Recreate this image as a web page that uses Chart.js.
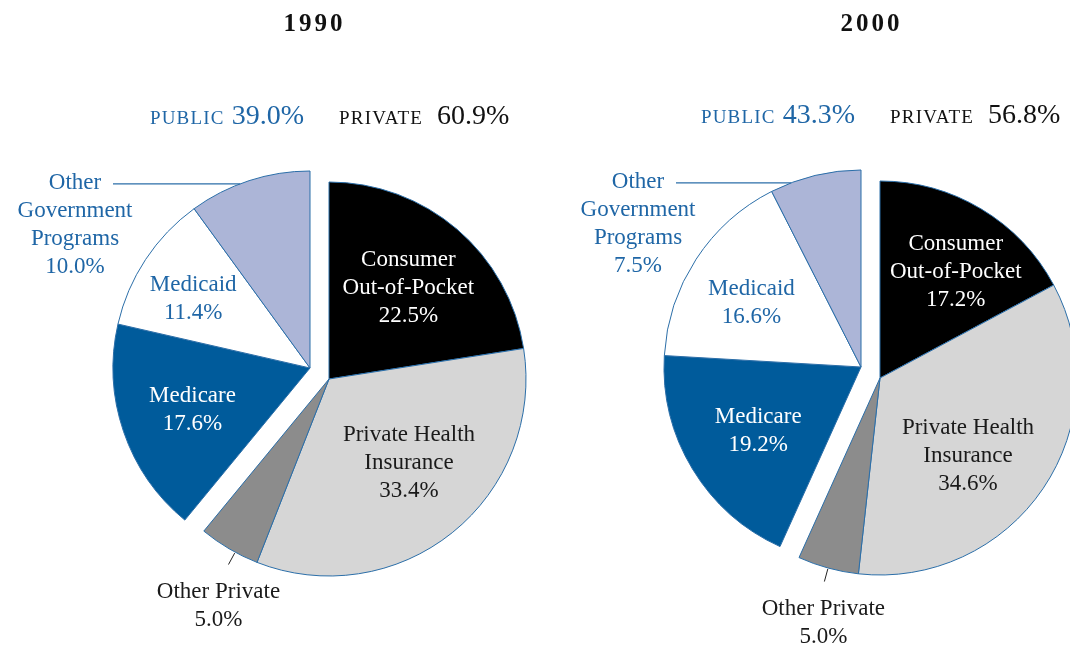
<!DOCTYPE html>
<html><head><meta charset="utf-8">
<script src="https://cdn.jsdelivr.net/npm/chart.js@4.4.0/dist/chart.umd.min.js"></script>
<style>
html,body{margin:0;padding:0;background:#fff;overflow:hidden}
#wrap{position:relative;width:1070px;height:645px}
canvas{position:absolute;top:0}
</style></head><body>
<div id="wrap">
<canvas id="c1990" width="535" height="645" style="left:0"></canvas>
<canvas id="c2000" width="535" height="645" style="left:535px"></canvas>
</div>
<script>
// ---- data ----
const years = ['1990', '2000'];
const categories = ['Consumer Out-of-Pocket', 'Private Health Insurance', 'Other Private', 'Medicare', 'Medicaid', 'Other Government Programs'];
const sectors = ['private', 'private', 'private', 'public', 'public', 'public'];
const values1990 = [22.5, 33.4, 5.0, 17.6, 11.4, 10.0];
const values2000 = [17.2, 34.6, 5.0, 19.2, 16.6, 7.5];
const labelLines = [['Consumer', 'Out-of-Pocket'], ['Private Health', 'Insurance'], ['Other Private'], ['Medicare'], ['Medicaid'], ['Other', 'Government', 'Programs']];
const sectorNames = {public: 'PUBLIC', private: 'PRIVATE'};

// ---- style ----
const FONT = "'Liberation Serif', 'Times New Roman', serif";
const fills = ['#000000', '#d6d6d6', '#8c8c8c', '#005b9b', '#ffffff', '#acb5d7'];
const textColors = ['#ffffff', '#1a1a1a', '#1a1a1a', '#ffffff', '#1f66a6', '#1f66a6'];
const BLUE = '#1f66a6';
const EDGE = '#2b6ea8';
const RADIUS = 197;
const TEXT_DY = 2;
const groupShift = {private: {x: 9.5, y: 5.5}, public: {x: -9.5, y: -5.5}};
const layoutByYear = {
  '1990': {padding: {left: 110, right: 6, top: 150, bottom: 48},
           labelR: [0.62, 0.58, 0, 0.63, 0.695, 0], labelDA: [0, -5.7, 0, 0, -2, 0],
           govReach: 197, leaderDA: -2, leaderTextDX: -10, titleDX: -5},
  '2000': {padding: {left: 140, right: 4, top: 150, bottom: 50},
           labelR: [0.67, 0.59, 0, 0.61, 0.65, 0], labelDA: [4.1, 6.7, 0, 0, -2, 0],
           govReach: 185, leaderDA: 0, leaderTextDX: -1, titleDX: 1}
};

const pct = v => v.toFixed(1) + '%';
const sectorSum = (vals, grp) => vals.reduce((s, v, i) => sectors[i] === grp ? s + v : s, 0);
const DEG = Math.PI / 180;

const explodePlugin = {
  id: 'explode',
  afterDatasetsUpdate(chart) {
    const meta = chart.getDatasetMeta(0);
    meta.data.forEach((arc, i) => {
      const s = groupShift[sectors[i]];
      arc.x += s.x; arc.y += s.y;
    });
  }
};

function makeLabelPlugin(year) {
  const cfg = layoutByYear[year];
  return {
    id: 'labels' + year,
    afterDraw(chart) {
      const ctx = chart.ctx;
      const meta = chart.getDatasetMeta(0);
      const vals = chart.data.datasets[0].data;
      const area = chart.chartArea;
      const bx = (area.left + area.right) / 2, by = (area.top + area.bottom) / 2;
      ctx.save();
      ctx.textAlign = 'center';
      ctx.textBaseline = 'middle';
      const lh = 28;
      let pubCenter = null, privCenter = null;
      meta.data.forEach((arc, i) => {
        if (sectors[i] === 'public') pubCenter = {x: arc.x, y: arc.y};
        else privCenter = {x: arc.x, y: arc.y};
        const mid = (arc.startAngle + arc.endAngle) / 2;
        const R = arc.outerRadius;
        const lines = labelLines[i].concat([pct(vals[i])]);
        ctx.font = '23px ' + FONT;
        ctx.fillStyle = textColors[i];
        if (cfg.labelR[i] > 0) {
          const a = mid + cfg.labelDA[i] * DEG;
          const cx = arc.x + Math.cos(a) * R * cfg.labelR[i];
          const cy = arc.y + Math.sin(a) * R * cfg.labelR[i] + TEXT_DY;
          lines.forEach((t, k) => ctx.fillText(t, cx, cy + (k - (lines.length - 1) / 2) * lh));
        } else if (sectors[i] === 'public') {
          const ly = arc.y - 0.935 * R;
          const lx = arc.x - Math.sqrt(R * R - (0.935 * R) ** 2);
          const sx = arc.x - cfg.govReach;
          ctx.strokeStyle = EDGE; ctx.lineWidth = 1.2;
          ctx.beginPath(); ctx.moveTo(sx, ly); ctx.lineTo(lx, ly); ctx.stroke();
          const tx = sx - 38;
          lines.forEach((t, k) => ctx.fillText(t, tx, ly - 3 + TEXT_DY + k * lh));
        } else {
          const a = mid + cfg.leaderDA * DEG;
          const p1 = {x: arc.x + Math.cos(a) * (R + 1), y: arc.y + Math.sin(a) * (R + 1)};
          const p2 = {x: arc.x + Math.cos(a) * (R + 14), y: arc.y + Math.sin(a) * (R + 14)};
          ctx.strokeStyle = '#222'; ctx.lineWidth = 1;
          ctx.beginPath(); ctx.moveTo(p1.x, p1.y); ctx.lineTo(p2.x, p2.y); ctx.stroke();
          lines.forEach((t, k) => ctx.fillText(t, p2.x + cfg.leaderTextDX, p2.y + 25 + TEXT_DY + k * lh));
        }
      });
      // title
      ctx.fillStyle = '#111';
      ctx.font = 'bold 25px ' + FONT;
      ctx.letterSpacing = '3px';
      ctx.textBaseline = 'alphabetic';
      ctx.fillText(year, bx + cfg.titleDX, 31);
      // sector totals row
      const baseY = by - 250;
      ctx.textAlign = 'left';
      ctx.fillStyle = BLUE;
      ctx.font = '28px ' + FONT; ctx.letterSpacing = '0px';
      const pubNum = pct(sectorSum(vals, 'public'));
      const pubNumW = ctx.measureText(pubNum).width;
      const pubEnd = pubCenter.x - 6;
      ctx.fillText(pubNum, pubEnd - pubNumW, baseY);
      ctx.font = '19px ' + FONT; ctx.letterSpacing = '1.2px';
      const pubW = ctx.measureText(sectorNames.public).width;
      ctx.fillText(sectorNames.public, pubEnd - pubNumW - 7 - pubW, baseY);
      ctx.fillStyle = '#111';
      const privStart = privCenter.x + 10;
      ctx.fillText(sectorNames.private, privStart, baseY);
      const privW = ctx.measureText(sectorNames.private).width;
      ctx.font = '28px ' + FONT; ctx.letterSpacing = '0px';
      ctx.fillText(pct(sectorSum(vals, 'private')), privStart + privW + 14, baseY);
      ctx.restore();
    }
  };
}

function makeChart(year, values) {
  const cfg = layoutByYear[year];
  return new Chart(document.getElementById('c' + year), {
    type: 'pie',
    data: {
      labels: categories,
      datasets: [{data: values, backgroundColor: fills, borderColor: EDGE, borderWidth: 1, radius: RADIUS}]
    },
    options: {
      responsive: false,
      animation: false,
      events: [],
      layout: {padding: cfg.padding},
      plugins: {legend: {display: false}, tooltip: {enabled: false}}
    },
    plugins: [explodePlugin, makeLabelPlugin(year)]
  });
}

makeChart(years[0], values1990);
makeChart(years[1], values2000);
</script>
</body></html>
